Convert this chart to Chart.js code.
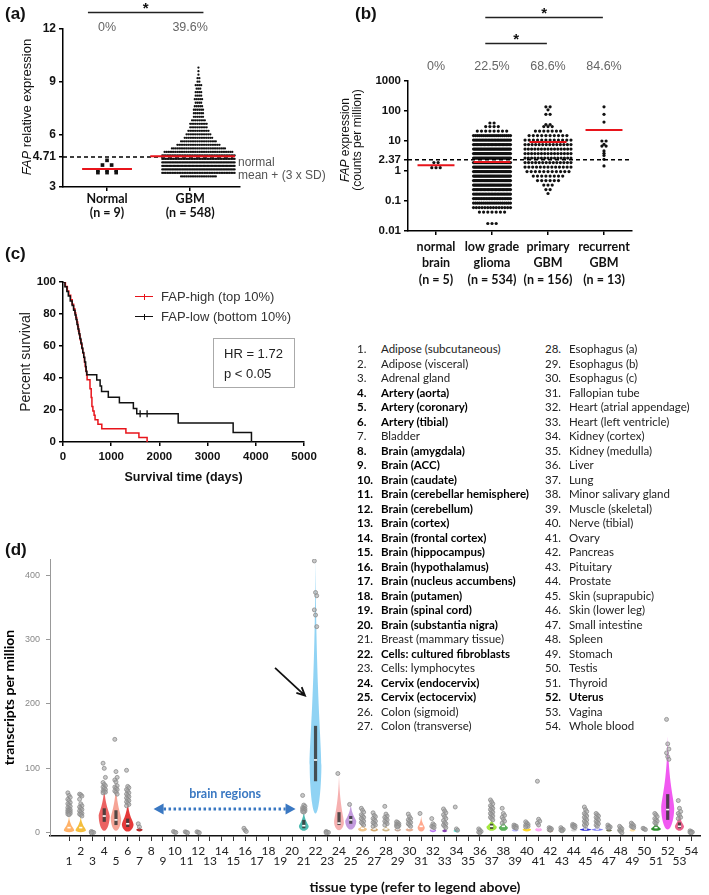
<!DOCTYPE html>
<html lang="en">
<head>
<meta charset="utf-8">
<title>FAP expression in glioma and normal tissues</title>
<script src="https://cdn.jsdelivr.net/npm/chart.js@4.4.1/dist/chart.umd.min.js"></script>
<style>
  html, body { margin: 0; padding: 0; background: #fff; }
  #fig { position: relative; width: 709px; height: 895px; overflow: hidden;
         font-family: 'Liberation Sans', Arial, sans-serif; color: #111; }
  .pane { position: absolute; }
  .pane canvas { display: block; }
  .tag { position: absolute; font: bold 17px 'Liberation Sans', Arial, sans-serif; line-height: 20px; }
  .txt { position: absolute; white-space: nowrap; }
  .rot { position: absolute; white-space: nowrap; text-align: center;
         transform: translate(-50%, -50%) rotate(-90deg); }
  .lgline { position: absolute; width: 18px; height: 0; border-top: 1.5px solid; }
  .lgtick { position: absolute; width: 0; height: 6px; border-left: 1.2px solid; }
  .hrbox { position: absolute; box-sizing: border-box; border: 1px solid #aaa;
           padding: 5px 0 0 10px; font-size: 13px; line-height: 20px; color: #222; }
  .num, .name { position: absolute; white-space: nowrap; font: 11.5px Lato, 'Open Sans', sans-serif;
                line-height: 14px; color: #222; }
  .bold { font-weight: bold; color: #000; }
</style>
</head>
<body>
<div id="fig">
  <div class="pane" style="left:0;top:0"><canvas id="chartA" width="350" height="225"></canvas></div>
  <div class="pane" style="left:340px;top:0"><canvas id="chartB" width="369" height="300"></canvas></div>
  <div class="pane" style="left:0;top:245px"><canvas id="chartC" width="360" height="250"></canvas></div>
  <div class="pane" style="left:0;top:540px"><canvas id="chartD" width="709" height="355"></canvas></div>

  <div class="tag" style="left:5px;top:4px">(a)</div>
  <div class="tag" style="left:355px;top:4px">(b)</div>
  <div class="tag" style="left:5px;top:244px">(c)</div>
  <div class="tag" style="left:5px;top:540px">(d)</div>

  <div class="rot" style="left:26px;top:107px;font-size:13px"><i>FAP</i> relative expression</div>
  <div class="txt" style="left:238px;top:156px;font-size:12px;line-height:13px;color:#555">normal<br>mean + (3 x SD)</div>

  <div class="rot" style="left:351px;top:140px;font-size:12px;line-height:12px"><i>FAP</i> expression<br>(counts per million)</div>

  <div class="lgline" style="left:135px;top:296px;border-color:#e8141b"></div>
  <div class="lgtick" style="left:144px;top:294px;border-color:#e8141b"></div>
  <div class="txt" style="left:161px;top:289px;font-size:13px;line-height:16px;color:#333">FAP-high (top 10%)</div>
  <div class="lgline" style="left:135px;top:316px;border-color:#111"></div>
  <div class="lgtick" style="left:144px;top:314px;border-color:#111"></div>
  <div class="txt" style="left:161px;top:309px;font-size:13px;line-height:16px;color:#333">FAP-low (bottom 10%)</div>
  <div class="hrbox" style="left:213px;top:338px;width:82px;height:50px">HR = 1.72<br>p &lt; 0.05</div>

  <div id="tissueList"></div>

  <div class="txt" style="left:415px;top:878px;transform:translateX(-50%);font:bold 14px Lato, sans-serif;line-height:18px">tissue type (refer to legend above)</div>
</div>

<script>
// ---------------- panel (a): FAP relative expression, normal vs GBM
const aGroups = ['Normal', 'GBM'];
const aCounts = ['(n = 9)', '(n = 548)'];
const aPercent = ['0%', '39.6%'];
const aMedians = [4.02, 4.75];
const aCutoff = 4.71;
const aTicks = [3, 4.71, 6, 9, 12];
// swarm rows: [value, number of samples]
const aNormalBins = [[4.52, 1], [4.25, 2], [3.97, 3], [3.82, 3]];
const aGbmBins = [[3.6, 20], [3.8, 44], [4.0, 52], [4.2, 54], [4.4, 52], [4.6, 46], [4.8, 44], [5.0, 38],
  [5.2, 30], [5.4, 24], [5.6, 20], [5.8, 16], [6.0, 14], [6.2, 12], [6.4, 10], [6.6, 10], [6.8, 8],
  [7.0, 6], [7.2, 6], [7.4, 6], [7.6, 5], [7.8, 4], [8.0, 5], [8.2, 4], [8.4, 4], [8.6, 3], [8.8, 4],
  [9.0, 2], [9.2, 2], [9.4, 1], [9.6, 1], [9.8, 1]];

// ---------------- panel (b): FAP counts per million (log scale)
const bGroups = [['normal', 'brain', '(n = 5)'], ['low grade', 'glioma', '(n = 534)'],
  ['primary', 'GBM', '(n = 156)'], ['recurrent', 'GBM', '(n = 13)']];
const bPercent = ['0%', '22.5%', '68.6%', '84.6%'];
const bMedians = [1.55, 2.0, 9.3, 23.3];
const bCutoff = 2.37;
const bTicks = [0.01, 0.1, 1, 2.37, 10, 100, 1000];
// swarm rows: [log10 value, number of samples]
const bNormalBins = [[0.28, 2], [0.11, 3]];
const bLowGradeBins = [[-1.75, 3], [-1.37, 7], [-1.22, 14], [-1.07, 20], [-0.92, 24], [-0.77, 26],
  [-0.62, 28], [-0.47, 36], [-0.32, 36], [-0.17, 36], [-0.02, 36], [0.13, 36], [0.28, 36], [0.43, 36],
  [0.58, 36], [0.73, 36], [0.88, 28], [1.03, 26], [1.18, 20], [1.33, 8], [1.48, 4], [1.6, 2]];
const bPrimaryBins = [[-0.75, 1], [-0.62, 2], [-0.47, 3], [-0.32, 6], [-0.17, 8], [-0.02, 11],
  [0.13, 13], [0.28, 14], [0.43, 15], [0.58, 15], [0.73, 15], [0.88, 14], [1.03, 12], [1.18, 10],
  [1.33, 7], [1.48, 3], [1.55, 2], [1.89, 2], [2.04, 1], [2.14, 2]];
const bRecurrentBins = [[2.14, 1], [1.89, 1], [1.63, 1], [1.0, 2], [0.89, 1], [0.83, 2], [0.67, 1],
  [0.59, 1], [0.52, 1], [0.39, 1], [0.17, 1]];

// ---------------- panel (c): Kaplan-Meier, [days, percent survival]
const kmHigh = [[0, 100], [50, 97.2], [90, 94.4], [120, 91.7], [160, 88.9], [190, 86.1], [220, 83.3],
  [245, 80.6], [265, 77.8], [285, 75], [305, 72.2], [320, 69.4], [340, 66.7], [355, 63.9], [375, 61.1],
  [395, 58.3], [410, 55.6], [430, 52.8], [445, 50], [460, 47.2], [475, 44.4], [490, 41.7], [500, 38.9],
  [560, 33.3], [585, 27.8], [600, 22.2], [620, 19.4], [645, 16.7], [665, 13.9], [725, 11.1],
  [805, 8.3], [1305, 5.6], [1575, 2.8], [1745, 0]];
const kmLow = [[0, 100], [40, 97.1], [80, 94.1], [110, 91.2], [150, 88.2], [190, 85.3], [220, 82.4],
  [250, 79.4], [270, 76.5], [290, 73.5], [310, 70.6], [330, 67.6], [350, 64.7], [370, 61.8],
  [390, 58.8], [410, 55.9], [430, 52.9], [450, 50], [470, 47.1], [480, 44.1], [495, 42], [700, 38.7],
  [770, 35], [800, 31.5], [940, 28], [1170, 24.6], [1460, 21], [1530, 17.6], [2390, 11.8],
  [3530, 5.9], [3910, 0]];
const kmLowCensored = [[1600, 17.6], [1745, 17.6]];
const cXTicks = [0, 1000, 2000, 3000, 4000, 5000];
const cYTicks = [0, 20, 40, 60, 80, 100];

// ---------------- panel (d): GTEx tissue expression
const tissueNames = ['Adipose (subcutaneous)', 'Adipose (visceral)', 'Adrenal gland', 'Artery (aorta)',
  'Artery (coronary)', 'Artery (tibial)', 'Bladder', 'Brain (amygdala)', 'Brain (ACC)', 'Brain (caudate)',
  'Brain (cerebellar hemisphere)', 'Brain (cerebellum)', 'Brain (cortex)', 'Brain (frontal cortex)',
  'Brain (hippocampus)', 'Brain (hypothalamus)', 'Brain (nucleus accumbens)', 'Brain (putamen)',
  'Brain (spinal cord)', 'Brain (substantia nigra)', 'Breast (mammary tissue)', 'Cells: cultured fibroblasts',
  'Cells: lymphocytes', 'Cervix (endocervix)', 'Cervix (ectocervix)', 'Colon (sigmoid)', 'Colon (transverse)',
  'Esophagus (a)', 'Esophagus (b)', 'Esophagus (c)', 'Fallopian tube', 'Heart (atrial appendage)',
  'Heart (left ventricle)', 'Kidney (cortex)', 'Kidney (medulla)', 'Liver', 'Lung', 'Minor salivary gland',
  'Muscle (skeletal)', 'Nerve (tibial)', 'Ovary', 'Pancreas', 'Pituitary', 'Prostate', 'Skin (suprapubic)',
  'Skin (lower leg)', 'Small intestine', 'Spleen', 'Stomach', 'Testis', 'Thyroid', 'Uterus', 'Vagina',
  'Whole blood'];
const boldTissues = [4, 5, 6, 8, 9, 10, 11, 12, 13, 14, 15, 16, 17, 18, 19, 20, 22, 24, 25, 52];
const dYTicks = [0, 100, 200, 300, 400];

// violin summary per tissue: [min, densest value, max, relative width, q1, median, q3]
const violinStats = [
  [1, 4, 26, 0.8, null, 8, null], [1, 4, 26, 0.8, null, 8, null], null,
  [3, 26, 73, 0.85, 17, 26, 38], [3, 22, 78, 0.8, 12, 20, 35], [2, 13, 50, 0.9, 9, 14, 22],
  [2, 5, 9, 0.5, null, null, null],
  null, null, null, null, null, null, null, null, null, null, null, null, null,
  [3, 10, 35, 0.75, 7, 11, 20], [30, 105, 430, 0.9, 80, 113, 166], null,
  [4, 16, 92, 0.75, 12, 15, 32], [5, 18, 46, 0.85, 14, 20, 26],
  [2, 6, 13, 0.7, null, 7, null], [2, 5, 11, 0.6, null, 6, null], [2, 5, 11, 0.6, null, 6, null],
  [2, 5, 10, 0.5, null, 6, null], [2, 5, 11, 0.6, null, 7, null], [2, 8, 26, 0.55, null, 10, null],
  [1, 4, 9, 0.5, null, 5, null], [1, 3, 7, 0.4, null, null, null], [1, 3, 8, 0.45, null, null, null],
  null, null,
  [3, 9, 22, 0.8, 6, 10, 14], [3, 8, 20, 0.7, null, 10, null], [2, 4, 9, 0.5, null, null, null],
  [2, 5, 10, 0.65, null, 7, null], [2, 5, 13, 0.55, null, 8, null], [1, 3, 7, 0.45, null, null, null],
  [1, 3, 6, 0.45, null, null, null], [2, 4, 9, 0.45, null, null, null], [3, 5, 9, 0.9, null, 6, null],
  [3, 5, 9, 0.9, null, 6, null], [2, 4, 8, 0.45, null, null, null], [1, 4, 9, 0.45, null, null, null],
  [2, 4, 9, 0.45, null, null, null], null, [3, 6, 17, 0.75, null, 8, null],
  [5, 38, 150, 1.0, 20, 36, 60], [3, 10, 32, 0.7, 7, 10, 16], null
];
const tissueColors = ['#FFA54F', '#F2B31B', '#8FBC8F', '#E84646', '#F49484', '#E01818', '#A80000',
  '#EEEE00', '#EEEE00', '#EEEE00', '#EEEE00', '#EEEE00', '#EEEE00', '#EEEE00', '#EEEE00', '#EEEE00',
  '#EEEE00', '#EEEE00', '#EEEE00', '#EEEE00', '#2FAFA5', '#7DCBF2', '#CC66FF', '#F4A2A2', '#B98AD8',
  '#EEBB77', '#CC9955', '#C8A870', '#BB9988', '#E0A080', '#FF9A7A', '#B060F0', '#7020A0', '#22D8C8',
  '#33CCCC', '#AABB66', '#94E21E', '#3DA33D', '#AAAAFF', '#FFD000', '#FF9AF0', '#995522', '#AAFF99',
  '#C8C8C8', '#0A0ACC', '#6F6FF5', '#555522', '#778855', '#FFD890', '#AAAAAA', '#0B7A0B', '#EE3CEE',
  '#E8487A', '#FF00BB'];
// outlying samples per tissue (TPM)
const outliers = [
  [62, 58, 55, 52, 50, 47, 45, 43, 41, 39, 37, 36, 35, 34, 33, 32, 31, 30, 29, 28],
  [60, 59, 57, 52, 45, 42, 40, 38, 36, 34, 32, 30, 29, 28, 26],
  [2, 1, 0.5, 0],
  [108, 100, 86, 78, 75, 73, 71, 69, 67, 65, 64, 63, 62],
  [145, 95, 86, 82, 79, 73, 71, 69, 67, 65, 63, 60],
  [97, 72, 70, 67, 65, 62, 60, 58, 56, 54, 52, 50, 48, 46, 44, 42],
  [14, 9], [], [], [2, 1, 0.5], [1.5, 0.8, 0], [1.5, 0.8, 0], [], [], [], [7, 4, 2], [], [], [], [],
  [58, 43, 41, 39, 38, 37, 36, 35, 34, 33, 32],
  [422, 373, 368, 346, 338, 320],
  [2, 1, 0.5, 0], [92], [44],
  [38, 35, 32, 28, 26, 24, 22, 20, 18, 16, 14, 12],
  [31, 27, 25, 22, 20, 18, 16, 14, 12, 10],
  [41, 29, 26, 24, 22, 20, 18, 16, 14, 12],
  [17, 16, 14, 13, 12, 11, 10, 9],
  [29, 25, 22, 20, 18, 16, 14, 12, 10],
  [30], [22, 14, 12, 10, 9, 8],
  [37, 34, 31, 28, 25, 22, 19, 16, 14, 12, 10, 8],
  [40, 6, 4], [], [6, 4, 2, 1, 0],
  [51, 48, 45, 42, 40, 38, 36, 34, 32, 30, 28, 26, 24, 22, 20],
  [38, 30, 27, 24, 21, 18, 15],
  [12, 11, 10, 9, 8, 7], [17, 15, 13, 12, 11, 10, 9], [80, 21, 18, 15, 12],
  [8, 7, 6, 5, 4], [8, 6, 5, 4, 3], [13, 12, 11, 10, 9, 8],
  [40, 36, 33, 30, 28, 26, 24, 22, 20, 18, 16, 14, 12, 10],
  [30, 28, 26, 24, 22, 20, 18, 16, 14, 12, 10],
  [12, 10, 9, 8, 7], [10, 8, 6, 4, 2, 0], [15, 13, 11, 10, 9, 8], [7, 6, 5],
  [30, 28, 25, 22, 20, 18, 16, 14],
  [176, 138, 130, 124, 118, 114],
  [50, 38, 33, 30, 27, 24, 22],
  [3, 2, 1, 0.5, 0]
];

// ---------------- shared styling
const ARIAL = "'Liberation Sans', Arial, sans-serif";
const CALIBRI = "Lato, 'Open Sans', sans-serif";
const RED = '#e8141b';
const BLUE = '#3a78c2';

Chart.defaults.animation = false;
Chart.defaults.responsive = false;
Chart.defaults.color = '#111';
Chart.defaults.font.family = ARIAL;
Chart.defaults.plugins.legend.display = false;
Chart.defaults.plugins.tooltip.enabled = false;

// lay out swarm rows side by side around a category centre
function swarm(bins, center, step, maxWidth, toValue) {
  const pts = [];
  bins.forEach(([v, n]) => {
    const w = Math.min(step * (n - 1), maxWidth);
    for (let i = 0; i < n; i++) {
      const dx = n > 1 ? -w / 2 + (i * w) / (n - 1) : 0;
      pts.push({ x: center + dx, y: toValue ? toValue(v) : v });
    }
  });
  return pts;
}
const fromLog = e => Math.pow(10, e);
const toXY = rows => rows.map(([x, y]) => ({ x, y }));

function medianLine(center, half, value) {
  return { type: 'line', showLine: true, data: [{ x: center - half, y: value }, { x: center + half, y: value }],
    borderColor: RED, borderWidth: 2, pointRadius: 0, order: 0 };
}
function cutoffLine(x0, x1, value) {
  return { type: 'line', showLine: true, data: [{ x: x0, y: value }, { x: x1, y: value }],
    borderColor: '#000', borderWidth: 1.5, borderDash: [4, 3], pointRadius: 0, order: 1 };
}
function axis(extra) {
  return Object.assign({
    grid: { display: true, drawOnChartArea: false, tickLength: 4, color: '#000', lineWidth: 1.5 },
    border: { display: true, color: '#000', width: 1.5 }
  }, extra);
}
// percentages above groups and significance brackets
function groupNotes(labels, labelY, bars, barY, padL, padR) {
  return {
    id: 'groupNotes',
    afterDraw(chart) {
      const { ctx } = chart;
      const xs = chart.scales.x;
      ctx.save();
      ctx.textAlign = 'center';
      ctx.textBaseline = 'middle';
      ctx.font = '12.5px ' + ARIAL;
      ctx.fillStyle = '#666';
      labels.forEach((t, i) => ctx.fillText(t, xs.getPixelForValue(i), labelY));
      ctx.strokeStyle = '#222';
      ctx.lineWidth = 1.3;
      ctx.fillStyle = '#111';
      ctx.font = 'bold 15px ' + ARIAL;
      bars.forEach(([a, b], k) => {
        const x0 = xs.getPixelForValue(a + padL);
        const x1 = xs.getPixelForValue(b + padR);
        ctx.beginPath();
        ctx.moveTo(x0, barY[k]);
        ctx.lineTo(x1, barY[k]);
        ctx.stroke();
        ctx.fillText('*', (x0 + x1) / 2, barY[k] - 4);
      });
      ctx.restore();
    }
  };
}

// ---------------- chart (a)
new Chart(document.getElementById('chartA'), {
  type: 'scatter',
  data: {
    datasets: [
      medianLine(0, 0.3, aMedians[0]),
      medianLine(1.03, 0.51, aMedians[1]),
      cutoffLine(-0.53, 1.52, aCutoff),
      { data: swarm(aNormalBins, 0, 0.11, 0.4), pointStyle: 'rect', pointRadius: 2.6,
        backgroundColor: '#111', borderWidth: 0, order: 2 },
      { data: swarm(aGbmBins, 1.1, 0.022, 0.87), pointRadius: 1.15,
        backgroundColor: '#111', borderWidth: 0, order: 2 }
    ]
  },
  options: {
    layout: { padding: { top: 29, right: 110, left: 0, bottom: 0 } },
    scales: {
      x: axis({
        type: 'linear', min: -0.53, max: 1.6,
        afterFit: s => { s.height = 38; },
        afterBuildTicks: s => { s.ticks = aGroups.map((_, i) => ({ value: i })); },
        ticks: { callback: v => [aGroups[v], aCounts[v]], autoSkip: false, maxRotation: 0, padding: 1,
          font: { family: CALIBRI, size: 12.5, weight: 'bold', lineHeight: 1.1 } }
      }),
      y: axis({
        min: 3, max: 12,
        afterFit: s => { s.width = 63; },
        afterBuildTicks: s => { s.ticks = aTicks.map(v => ({ value: v })); },
        ticks: { callback: v => String(v), autoSkip: false, padding: 3, font: { size: 12, weight: 'bold' } }
      })
    }
  },
  plugins: [groupNotes(aPercent, 28, [[0, 1]], [12.5], -0.23, 0.16)]
});

// ---------------- chart (b)
new Chart(document.getElementById('chartB'), {
  type: 'scatter',
  data: {
    datasets: [
      ...bMedians.map((m, i) => medianLine(i, 0.33, m)),
      cutoffLine(-0.5, 3.5, bCutoff),
      ...[bNormalBins, bLowGradeBins, bPrimaryBins, bRecurrentBins].map((bins, i) => ({
        data: swarm(bins, i, 0.075, i === 1 ? 0.66 : 0.82, fromLog),
        pointRadius: 1.6, backgroundColor: '#111', borderWidth: 0, order: 2
      }))
    ]
  },
  options: {
    layout: { padding: { top: 81, right: 77, left: 0, bottom: 0 } },
    scales: {
      x: axis({
        type: 'linear', min: -0.5, max: 3.5,
        afterFit: s => { s.height = 69; },
        afterBuildTicks: s => { s.ticks = bGroups.map((_, i) => ({ value: i })); },
        ticks: { callback: v => bGroups[v], autoSkip: false, maxRotation: 0, padding: 4,
          font: { family: CALIBRI, size: 12.5, weight: 'bold', lineHeight: 1.3 } }
      }),
      y: axis({
        type: 'logarithmic', min: 0.01, max: 1000,
        afterFit: s => { s.width = 68; },
        afterBuildTicks: s => { s.ticks = bTicks.map(v => ({ value: v })); },
        ticks: { callback: v => String(v), autoSkip: false, padding: 3, font: { size: 11.5, weight: 'bold' } }
      })
    }
  },
  plugins: [groupNotes(bPercent, 67, [[1, 3], [1, 2]], [17.5, 43.5], -0.12, -0.02)]
});

// ---------------- chart (c)
new Chart(document.getElementById('chartC'), {
  type: 'scatter',
  data: {
    datasets: [
      { type: 'line', showLine: true, data: toXY(kmLow), stepped: 'before', borderColor: '#111',
        borderWidth: 1.5, pointRadius: 0, order: 0 },
      { data: toXY(kmLowCensored), pointStyle: 'line', rotation: 90, pointRadius: 3.5,
        borderColor: '#111', borderWidth: 1.3, order: 0 },
      { type: 'line', showLine: true, data: toXY(kmHigh), stepped: 'before', borderColor: RED,
        borderWidth: 1.5, pointRadius: 0, order: 1 }
    ]
  },
  options: {
    layout: { padding: { top: 37, right: 56, left: 0, bottom: 0 } },
    scales: {
      x: axis({
        min: 0, max: 5000,
        afterFit: s => { s.height = 53; },
        afterBuildTicks: s => { s.ticks = cXTicks.map(v => ({ value: v })); },
        ticks: { callback: v => String(v), autoSkip: false, maxRotation: 0, padding: 4,
          font: { size: 11.5, weight: 'bold' } },
        title: { display: true, text: 'Survival time (days)', font: { size: 12.5, weight: 'bold' },
          padding: { top: 0, bottom: 9.5 } }
      }),
      y: axis({
        min: 0, max: 100,
        afterFit: s => { s.width = 63; },
        afterBuildTicks: s => { s.ticks = cYTicks.map(v => ({ value: v })); },
        ticks: { callback: v => String(v), autoSkip: false, padding: 3, font: { size: 11.5, weight: 'bold' } },
        title: { display: true, text: 'Percent survival', font: { size: 14 }, color: '#222',
          padding: { top: 18, bottom: 0 } }
      })
    }
  }
});

// ---------------- chart (d)
const VIOLIN_HALF = 6.5;
const violinPlugin = {
  id: 'violins',
  beforeDatasetsDraw(chart) {
    const { ctx, scales: { x, y } } = chart;
    ctx.save();
    violinStats.forEach((s, i) => {
      if (!s) return;
      const [lo, peak, top, rel, q1, med, q3] = s;
      const cx = x.getPixelForValue(i + 1);
      const yb = y.getPixelForValue(lo);
      const yp = y.getPixelForValue(peak);
      const yt = y.getPixelForValue(top);
      const hw = VIOLIN_HALF * rel;
      const up = yp - yt;
      const dn = yb - yp;
      ctx.beginPath();
      ctx.moveTo(cx, yb);
      ctx.bezierCurveTo(cx + hw * 0.6, yb, cx + hw, yp + dn * 0.4, cx + hw, yp);
      ctx.bezierCurveTo(cx + hw, yp - up * 0.12, cx + hw * 0.1, yp - up * 0.35, cx, yt);
      ctx.bezierCurveTo(cx - hw * 0.1, yp - up * 0.35, cx - hw, yp - up * 0.12, cx - hw, yp);
      ctx.bezierCurveTo(cx - hw, yp + dn * 0.4, cx - hw * 0.6, yb, cx, yb);
      ctx.closePath();
      ctx.globalAlpha = 0.85;
      ctx.fillStyle = tissueColors[i];
      ctx.fill();
      ctx.globalAlpha = 1;
      if (q1 !== null) {
        const y1 = y.getPixelForValue(q1);
        const y3 = y.getPixelForValue(q3);
        ctx.fillStyle = 'rgba(55,55,55,0.85)';
        ctx.fillRect(cx - 1.6, y3, 3.2, y1 - y3);
      }
      if (med !== null) {
        ctx.fillStyle = '#fff';
        ctx.fillRect(cx - 1.6, y.getPixelForValue(med) - 0.8, 3.2, 1.6);
      }
    });
    ctx.restore();
  }
};

// brain-region span and fibroblast arrow, placed in data units
const brainSpan = [8.2, 20.3];
const brainArrowAt = 37;
const brainLabelAt = [14.3, 60];
const fibroArrow = [[18.55, 256], [21.1, 213]];
const notesPlugin = {
  id: 'tissueNotes',
  afterDatasetsDraw(chart) {
    const { ctx, scales: { x, y } } = chart;
    ctx.save();
    const x0 = x.getPixelForValue(brainSpan[0]);
    const x1 = x.getPixelForValue(brainSpan[1]);
    const ya = y.getPixelForValue(brainArrowAt);
    ctx.strokeStyle = BLUE;
    ctx.fillStyle = BLUE;
    ctx.lineWidth = 3;
    ctx.setLineDash([2.5, 2.5]);
    ctx.beginPath();
    ctx.moveTo(x0 + 10, ya);
    ctx.lineTo(x1 - 10, ya);
    ctx.stroke();
    ctx.setLineDash([]);
    [[x0, 1], [x1, -1]].forEach(([px, dir]) => {
      ctx.beginPath();
      ctx.moveTo(px, ya);
      ctx.lineTo(px + dir * 10, ya - 5.5);
      ctx.lineTo(px + dir * 10, ya + 5.5);
      ctx.closePath();
      ctx.fill();
    });
    ctx.font = 'bold 12.5px ' + CALIBRI;
    ctx.textAlign = 'center';
    ctx.textBaseline = 'middle';
    ctx.fillText('brain regions', x.getPixelForValue(brainLabelAt[0]), y.getPixelForValue(brainLabelAt[1]));

    const ax0 = x.getPixelForValue(fibroArrow[0][0]);
    const ay0 = y.getPixelForValue(fibroArrow[0][1]);
    const ax1 = x.getPixelForValue(fibroArrow[1][0]);
    const ay1 = y.getPixelForValue(fibroArrow[1][1]);
    const ang = Math.atan2(ay1 - ay0, ax1 - ax0);
    ctx.strokeStyle = '#111';
    ctx.lineWidth = 1.8;
    ctx.beginPath();
    ctx.moveTo(ax0, ay0);
    ctx.lineTo(ax1, ay1);
    ctx.moveTo(ax1 - 9 * Math.cos(ang - 0.45), ay1 - 9 * Math.sin(ang - 0.45));
    ctx.lineTo(ax1, ay1);
    ctx.lineTo(ax1 - 9 * Math.cos(ang + 0.45), ay1 - 9 * Math.sin(ang + 0.45));
    ctx.stroke();
    ctx.restore();
  }
};

// outliers sit in a narrow strip around each tissue column (alternating left/centre/right)
const outlierPoints = [];
outliers.forEach((vals, i) => vals.forEach((v, k) => {
  outlierPoints.push({ x: i + 1 + ((k % 3) - 1) * 0.1, y: v });
}));

new Chart(document.getElementById('chartD'), {
  type: 'scatter',
  data: {
    datasets: [{
      data: outlierPoints, pointRadius: 2, borderWidth: 0.8,
      borderColor: '#8c8c8c', backgroundColor: 'rgba(165,165,165,0.6)'
    }]
  },
  options: {
    layout: { padding: { top: 19, right: 9, left: 0, bottom: 0 } },
    scales: {
      x: {
        type: 'linear', min: -0.62, max: 54.75,
        afterFit: s => { s.height = 59; },
        afterBuildTicks: s => { s.ticks = tissueNames.map((_, i) => ({ value: i + 1 })); },
        ticks: {
          callback: v => (v % 2 === 0 ? [String(v)] : ['', String(v)]),
          autoSkip: false, maxRotation: 0, padding: 5, color: '#222',
          font: { family: CALIBRI, size: 12, lineHeight: 0.85 }
        },
        grid: { display: true, drawOnChartArea: false, tickLength: 5, color: '#333', lineWidth: 1 },
        border: { display: true, color: '#111', width: 1.5 }
      },
      y: {
        min: -5, max: 425,
        afterFit: s => { s.width = 50; },
        afterBuildTicks: s => { s.ticks = dYTicks.map(v => ({ value: v })); },
        ticks: { callback: v => String(v), autoSkip: false, padding: 6, color: '#888', font: { size: 9 } },
        grid: { display: true, drawOnChartArea: false, tickLength: 4, color: '#999', lineWidth: 1 },
        border: { display: true, color: '#999', width: 1 },
        title: { display: true, text: 'transcripts per million', color: '#000',
          font: { family: CALIBRI, size: 14, weight: 'bold' }, padding: { top: 1, bottom: 0 } }
      }
    }
  },
  plugins: [violinPlugin, notesPlugin]
});

// ---------------- tissue legend (two columns of 27)
const listBox = document.getElementById('tissueList');
tissueNames.forEach((name, i) => {
  const col = i < 27 ? 0 : 1;
  const top = 342 + (i % 27) * 14.5;
  const cls = boldTissues.includes(i + 1) ? ' bold' : '';
  const num = document.createElement('div');
  num.className = 'num' + cls;
  num.style.left = (col ? 545 : 357) + 'px';
  num.style.top = top + 'px';
  num.textContent = (i + 1) + '.';
  const label = document.createElement('div');
  label.className = 'name' + cls;
  label.style.left = (col ? 569 : 381) + 'px';
  label.style.top = top + 'px';
  label.textContent = name;
  listBox.appendChild(num);
  listBox.appendChild(label);
});
</script>
</body>
</html>
